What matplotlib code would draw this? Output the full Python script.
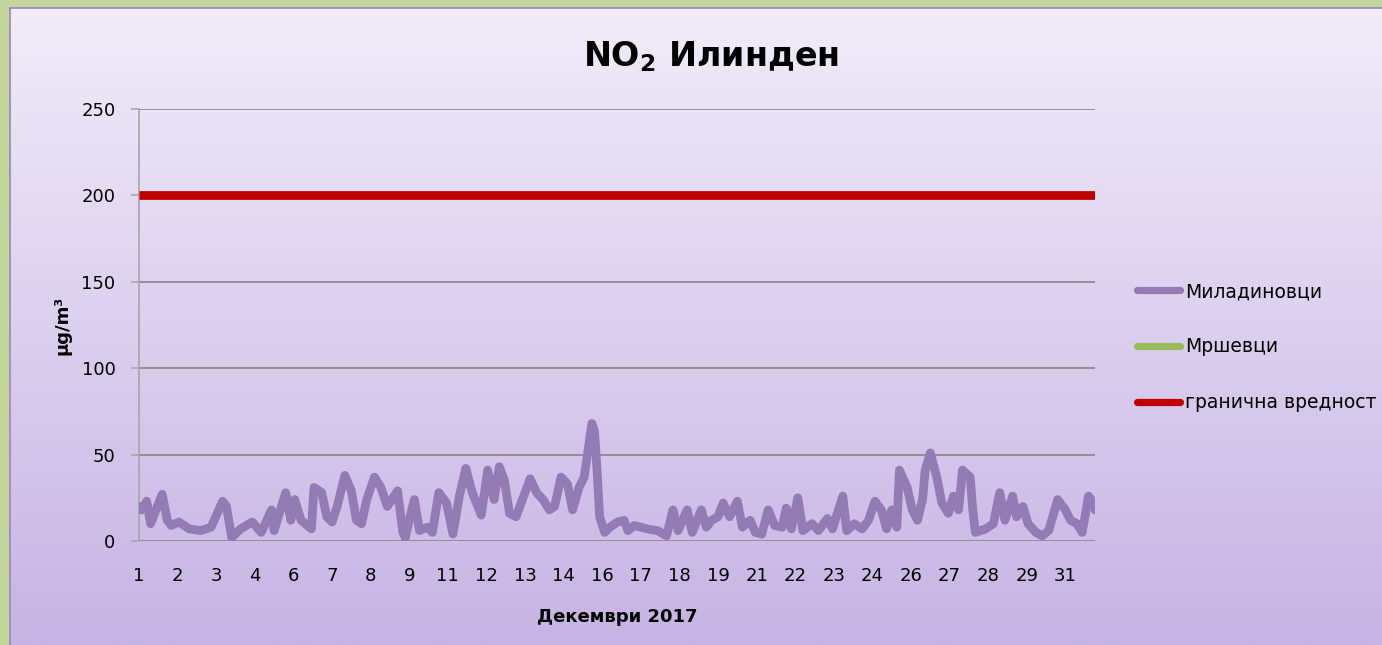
import numpy as np
import matplotlib
matplotlib.use('Agg')
import matplotlib.pyplot as plt
from matplotlib.lines import Line2D

plt.rcParams['font.family'] = ['DejaVu Sans']
plt.rcParams['mathtext.default'] = 'bf'

# ---------------- data ----------------
sample_hours = [0, 2, 6, 9, 18, 22, 25, 31, 39, 48, 56, 65, 68, 72, 79, 88, 95, 103, 105, 114, 118,
                121, 126, 134, 136, 142, 146, 150, 154, 160, 165, 169, 173, 177, 183, 188, 193, 201, 205,
                207, 210, 214, 218, 224, 228, 233, 239, 244,
                249, 254, 259, 266, 271, 276, 280, 284, 288, 293, 297, 304, 309, 314, 319, 323, 328, 333,
                337, 342, 346, 352, 354, 356, 358, 362, 366, 372,
                377, 380, 385, 395, 403, 410, 415, 419, 426, 430, 437, 441, 445, 450, 454, 459, 465, 469,
                475, 479, 484, 489, 494,
                500, 503, 507, 512, 516, 523, 528, 535, 539, 547, 550, 556, 562, 567, 572, 577, 581, 585,
                589, 591, 597, 601, 605, 609, 611, 615, 620, 624,
                629, 633, 637, 640, 646, 648, 650, 658, 664, 669, 673, 679, 682, 687, 691, 697, 702, 707,
                714, 720, 724, 729, 733, 738, 742, 743]
miladinovci = [20, 18, 23, 10, 27, 12, 9, 11, 7, 6, 8, 23, 20, 2, 7, 11, 5, 18, 6, 28, 12,
               24, 12, 7, 31, 28, 14, 11, 20, 38, 29, 12, 10, 24, 37, 31, 20, 29, 5,
               2, 12, 24, 6, 8, 5, 28, 22, 4,
               26, 42, 28, 15, 41, 24, 43, 35, 16, 14, 22, 36, 28, 24, 18, 20, 37, 33,
               18, 31, 37, 68, 64, 41, 14, 5, 8, 11,
               12, 6, 9, 7, 6, 3, 18, 6, 18, 5, 18, 8, 12, 14, 22, 14, 23, 8,
               12, 5, 4, 18, 9,
               8, 19, 7, 25, 6, 10, 6, 13, 7, 26, 6, 10, 7, 12, 23, 18, 7, 18,
               8, 41, 31, 18, 12, 24, 41, 51, 37, 22,
               16, 26, 18, 41, 37, 18, 5, 7, 10, 28, 12, 26, 14, 20, 10, 5, 3, 6,
               24, 18, 12, 10, 5, 26, 22, 18]
mrshevci_hours = []
mrshevci = []
limit_value = 200
n_hours = 744
tick_hours = list(range(0, 721, 30))
tick_labels = ['1', '2', '3', '4', '6', '7', '8', '9', '11', '12', '13', '14', '16',
               '17', '18', '19', '21', '22', '23', '24', '26', '27', '28', '29', '31']
y_ticks = [0, 50, 100, 150, 200, 250]
series_names = ['Миладиновци', 'Мршевци', 'гранична вредност']
title_text = 'NO$_2$ Илинден'
x_title = 'Декември 2017'
y_title = 'µg/m³'

# ---------------- figure ----------------
W, H = 1382, 645
fig = plt.figure(figsize=(W / 100, H / 100), dpi=100)
fig.patch.set_facecolor('#C3D69B')

# gradient chart area
bg = fig.add_axes([10 / W, 0, 1 - 10 / W, 1 - 8 / H])
grad = np.linspace(0, 1, 256).reshape(-1, 1)
top = np.array([241, 236, 249]) / 255
bot = np.array([198, 180, 228]) / 255
img = top + (bot - top) * grad[..., None]
bg.imshow(img, aspect='auto', extent=[0, 1, 0, 1], origin='upper')
bg.set_xlim(0, 1)
bg.set_ylim(0, 1)
bg.set_xticks([])
bg.set_yticks([])
for s in ['right', 'bottom']:
    bg.spines[s].set_visible(False)
for s in ['top', 'left']:
    bg.spines[s].set_color('#9A84C4')
    bg.spines[s].set_linewidth(1.2)

ax = fig.add_axes([139 / W, 1 - 541 / H, (1095 - 139) / W, (541 - 109) / H])
ax.patch.set_alpha(0)

purple = '#927CB3'
green = '#9BBB59'
red = '#C00000'
lw = 6.3

ax.plot(sample_hours, miladinovci, color=purple, lw=lw,
        solid_joinstyle='round', solid_capstyle='round', zorder=3)
ax.plot(mrshevci_hours, mrshevci, color=green, lw=lw, solid_capstyle='round', zorder=3)
hours_full = np.arange(n_hours)
ax.plot(hours_full, np.full(n_hours, limit_value), color=red, lw=lw,
        solid_capstyle='butt', zorder=4)

ax.set_xlim(0, n_hours - 1)
ax.set_ylim(0, 250)
ax.set_yticks(y_ticks)
ax.set_xticks(tick_hours)
ax.set_xticklabels(tick_labels)
ax.yaxis.grid(True, color='#8C8C8C', lw=1.3)
ax.set_axisbelow(True)
for s in ['top', 'right', 'bottom']:
    ax.spines[s].set_visible(False)
ax.spines['left'].set_color('#A6A6A6')
ax.spines['left'].set_linewidth(1.2)
ax.tick_params(axis='y', length=6, width=1.2, color='#A6A6A6', pad=11, labelsize=13)
ax.tick_params(axis='x', length=0, pad=19, labelsize=13)

ax.set_xlabel(x_title, fontsize=13, fontweight='bold', labelpad=16)
ax.set_ylabel(y_title, fontsize=13, fontweight='bold', labelpad=7)

fig.text(711 / W, 1 - 57 / H, title_text, fontsize=24, fontweight='bold',
         ha='center', va='center')

handles = [Line2D([], [], color=c, lw=5.2, solid_capstyle='round') for c in (purple, green, red)]
fig.legend(handles=handles, labels=series_names, loc='center left',
           bbox_to_anchor=(1137 / W, 1 - 347 / H), frameon=False,
           fontsize=13.5, handlelength=2.3, handletextpad=0.25,
           labelspacing=1.95, borderpad=0, borderaxespad=0)

fig.savefig('out.png', dpi=100)
